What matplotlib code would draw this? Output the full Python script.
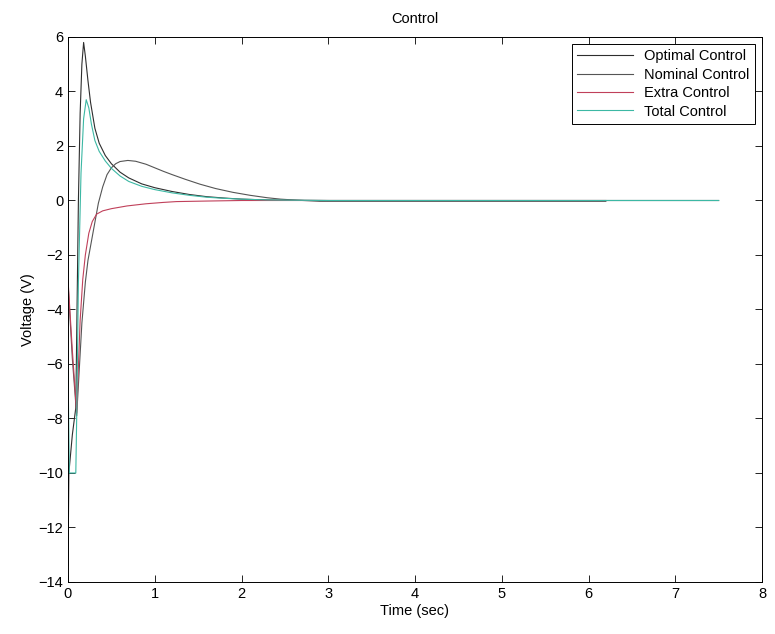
import matplotlib
matplotlib.use("Agg")
import matplotlib.pyplot as plt

plt.rcParams['font.family'] = ['Liberation Sans', 'DejaVu Sans']

# Optimal Control
t_opt = [0, 0.01, 0.05, 0.09, 0.1, 0.12, 0.14, 0.16, 0.18, 0.2, 0.23, 0.26, 0.31, 0.36, 0.43, 0.5, 0.6, 0.7, 0.85, 1.0,
         1.2, 1.4, 1.6, 1.8, 2.0, 2.3, 2.6, 3.0, 5.0, 7.5]
v_opt = [-13.4, -10.0, -8.6, -7.6, -5.0, 0.0, 3.2, 5.0, 5.8, 5.3, 4.4, 3.6, 2.65, 2.1, 1.65, 1.35, 1.04, 0.83, 0.61, 0.47,
         0.33, 0.22, 0.14, 0.09, 0.05, 0.02, 0.01, 0.0, 0.0, 0.0]

# Nominal Control
t_nom = [0, 0.05, 0.1, 0.13, 0.16, 0.2, 0.23, 0.27, 0.31, 0.35, 0.4, 0.45, 0.5, 0.55, 0.6, 0.69, 0.78, 0.9, 1.0, 1.1,
         1.2, 1.35, 1.52, 1.7, 1.9, 2.1, 2.3, 2.45, 2.65, 2.9, 4.0, 5.0, 6.2]
v_nom = [-3.0, -5.8, -7.9, -6.2, -4.5, -3.0, -2.2, -1.5, -0.8, -0.1, 0.5, 0.95, 1.2, 1.35, 1.43, 1.47, 1.44, 1.33, 1.2, 1.07,
         0.95, 0.78, 0.6, 0.44, 0.3, 0.19, 0.1, 0.05, 0.01, -0.03, -0.03, -0.03, -0.03]

# Extra Control
t_ext = [0, 0.05, 0.1, 0.14, 0.17, 0.2, 0.24, 0.28, 0.33, 0.4, 0.5, 0.68, 0.9, 1.1, 1.25, 1.6, 2.0, 3.0, 4.5, 6.2]
v_ext = [-2.9, -5.5, -7.8, -4.4, -2.9, -2.0, -1.2, -0.77, -0.5, -0.38, -0.3, -0.2, -0.12, -0.07, -0.04, -0.02, 0.0, 0.0, 0.0, 0.0]

# Total Control
t_tot = [0, 0.015, 0.09, 0.1, 0.12, 0.15, 0.18, 0.21, 0.24, 0.27, 0.31, 0.36, 0.43, 0.5, 0.6, 0.7, 0.85, 1.0,
         1.2, 1.4, 1.6, 1.8, 2.0, 2.3, 2.6, 3.0, 5.0, 7.5]
v_tot = [-6.0, -10.0, -10.0, -8.0, -3.0, 1.0, 3.0, 3.7, 3.4, 2.8, 2.2, 1.8, 1.45, 1.18, 0.9, 0.7, 0.52, 0.4,
         0.28, 0.19, 0.12, 0.08, 0.05, 0.02, 0.01, 0.0, 0.0, 0.0]

labels = ['Optimal Control', 'Nominal Control', 'Extra Control', 'Total Control']
colors = ['#2e2e2e', '#555555', '#c0405a', '#3cb8a4']

fig = plt.figure(figsize=(7.75, 6.34), dpi=100)
ax = fig.add_axes([68/775, 1-582/634, (762-68)/775, (582-37)/634])

for t, v, lab, c in zip([t_opt, t_nom, t_ext, t_tot], [v_opt, v_nom, v_ext, v_tot], labels, colors):
    ax.plot(t, v, color=c, lw=0.8, label=lab)

ax.set_xlim(0, 8)
ax.set_ylim(-14, 6)
ax.set_xticks(range(0, 9))
ax.set_yticks(range(-14, 7, 2))
ax.tick_params(direction='in', top=True, right=True, labelsize=10.5, length=5, width=0.6)
for s in ax.spines.values():
    s.set_linewidth(0.7)
ax.set_xlabel('Time (sec)', fontsize=10.5, labelpad=2)
ax.set_ylabel('Voltage (V)', fontsize=10.5, labelpad=2)
ax.set_title('Control', fontsize=10.5, pad=10)

leg = ax.legend(loc='upper right', fontsize=10.5, fancybox=False, framealpha=1,
                edgecolor='black', borderpad=0.35, handlelength=3.8,
                labelspacing=0.3, borderaxespad=0.5)
leg.get_frame().set_linewidth(0.7)

fig.savefig('out.png', dpi=100)
